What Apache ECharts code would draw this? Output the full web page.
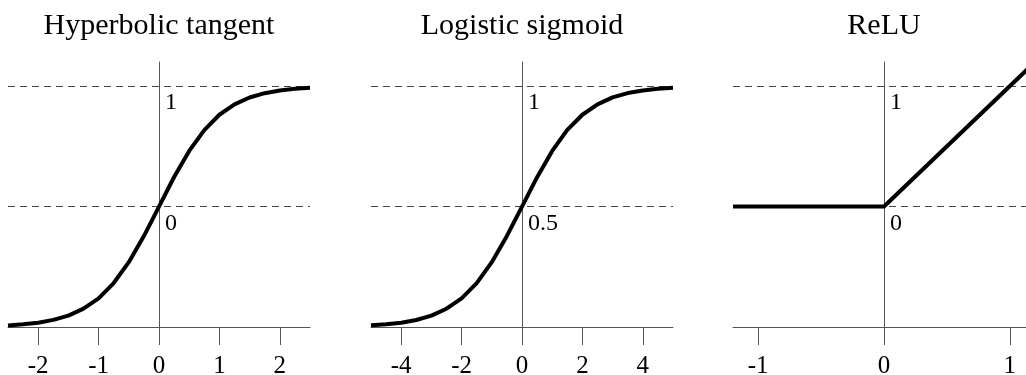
<!DOCTYPE html>
<html>
<head>
<meta charset="utf-8">
<script src="https://cdn.jsdelivr.net/npm/echarts@6/dist/echarts.min.js"></script>
<style>
  html, body { margin: 0; padding: 0; background: #fff; }
  #chart { width: 1026px; height: 375px; }
</style>
</head>
<body>
<div id="chart"></div>
<script>
// Panel titles
const titles = ['Hyperbolic tangent', 'Logistic sigmoid', 'ReLU'];

// Hyperbolic tangent samples
const tanhX = [-2.5, -2.25, -2, -1.75, -1.5, -1.25, -1, -0.75, -0.5, -0.25, 0,
               0.25, 0.5, 0.75, 1, 1.25, 1.5, 1.75, 2, 2.25, 2.5];
const tanhY = [-0.987, -0.978, -0.964, -0.941, -0.905, -0.848, -0.762, -0.635, -0.462, -0.245, 0,
               0.245, 0.462, 0.635, 0.762, 0.848, 0.905, 0.941, 0.964, 0.978, 0.987];

// Logistic sigmoid samples
const sigX = [-5, -4.5, -4, -3.5, -3, -2.5, -2, -1.5, -1, -0.5, 0,
              0.5, 1, 1.5, 2, 2.5, 3, 3.5, 4, 4.5, 5];
const sigY = [0.007, 0.011, 0.018, 0.029, 0.047, 0.076, 0.119, 0.182, 0.269, 0.378, 0.5,
              0.622, 0.731, 0.818, 0.881, 0.924, 0.953, 0.971, 0.982, 0.989, 0.993];

// ReLU corner points
const reluX = [-1.2, 0, 1.2];
const reluY = [0, 0, 1.2];

// Axis ticks and labels
const tanhXTicks = [-2, -1, 0, 1, 2];
const sigXTicks = [-4, -2, 0, 2, 4];
const reluXTicks = [-1, 0, 1];
const tanhYLabels = [0, 1];
const sigYLabels = [0.5, 1];
const reluYLabels = [0, 1];

// Dashed reference levels
const tanhGuides = [1, 0];
const sigGuides = [1, 0.5];
const reluGuides = [1, 0];

const FONT = '"Liberation Serif", "DejaVu Serif", serif';
const AXIS_GRAY = '#555';
const PLOT_W = 302;

const panels = [
  { title: titles[0], x: tanhX, y: tanhY, xMin: -2.5, xMax: 2.5, yMin: -1, yMax: 1.2,
    xTicks: tanhXTicks, yLabels: tanhYLabels, guides: tanhGuides, left: 8 },
  { title: titles[1], x: sigX, y: sigY, xMin: -5, xMax: 5, yMin: 0, yMax: 1.1,
    xTicks: sigXTicks, yLabels: sigYLabels, guides: sigGuides, left: 371 },
  { title: titles[2], x: reluX, y: reluY, xMin: -1.2, xMax: 1.2, yMin: -1, yMax: 1.2,
    xTicks: reluXTicks, yLabels: reluYLabels, guides: reluGuides, left: 733 }
];

const grid = [], xAxis = [], yAxis = [], series = [], graphic = [];

panels.forEach((p, i) => {
  // pixel position of x = 0 inside this panel; the vertical axis sits there
  const zeroOffset = PLOT_W * (0 - p.xMin) / (p.xMax - p.xMin);

  grid.push({ left: p.left, top: 62, width: PLOT_W, height: 265,
              containLabel: false, outerBoundsMode: 'none' });

  xAxis.push({
    type: 'value', gridIndex: i, min: p.xMin, max: p.xMax,
    axisLine: { onZero: false, lineStyle: { color: AXIS_GRAY, width: 1 } },
    axisTick: { customValues: p.xTicks, length: 18, inside: false,
                lineStyle: { color: AXIS_GRAY, width: 1 } },
    axisLabel: { customValues: p.xTicks, color: '#000', fontFamily: FONT, fontSize: 25, margin: 27,
                 formatter: v => String(v) },
    splitLine: { show: false }
  });

  yAxis.push({
    type: 'value', gridIndex: i, min: p.yMin, max: p.yMax,
    position: 'left', offset: -zeroOffset,
    axisLine: { show: true, onZero: false, lineStyle: { color: AXIS_GRAY, width: 1 } },
    axisTick: { show: false },
    axisLabel: { customValues: p.yLabels, inside: true, margin: 6, color: '#000',
                 fontFamily: FONT, fontSize: 24, verticalAlign: 'top', padding: [5, 0, 0, 0],
                 formatter: v => String(v) },
    splitLine: { show: false }
  });

  // dashed reference levels, drawn beneath the curve
  series.push({
    type: 'line', xAxisIndex: i, yAxisIndex: i, data: [], z: 1, silent: true,
    markLine: {
      z: 1, symbol: 'none', silent: true, animation: false,
      label: { show: false },
      lineStyle: { type: [7, 5], color: '#444', width: 1 },
      data: p.guides.map(v => ({ yAxis: v }))
    }
  });

  // the activation curve
  series.push({
    type: 'line', xAxisIndex: i, yAxisIndex: i, z: 10,
    data: p.x.map((xv, k) => [xv, p.y[k]]),
    showSymbol: false, symbol: 'none', smooth: false, clip: true,
    lineStyle: { color: '#000', width: 4, cap: 'butt', join: 'round' }
  });

  graphic.push({
    type: 'text', x: p.left + zeroOffset, y: 26,
    style: { text: p.title, font: '30px ' + FONT, fill: '#000',
             align: 'center', verticalAlign: 'middle' }
  });
});

const chart = echarts.init(document.getElementById('chart'));
chart.setOption({
  animation: false,
  backgroundColor: '#fff',
  grid, xAxis, yAxis, series, graphic
});
</script>
</body>
</html>
